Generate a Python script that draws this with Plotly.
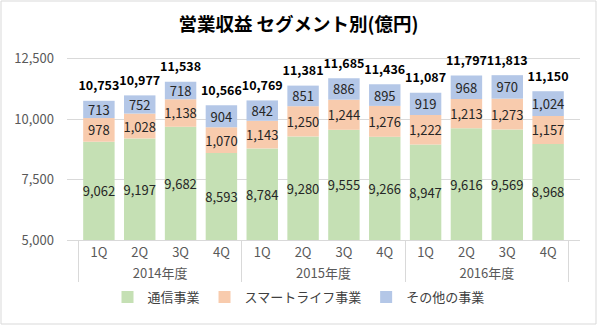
import plotly.graph_objects as go

years = ["2014年度"] * 4 + ["2015年度"] * 4 + ["2016年度"] * 4
quarters = ["1Q", "2Q", "3Q", "4Q"] * 3
tsushin = [9062, 9197, 9682, 8593, 8784, 9280, 9555, 9266, 8947, 9616, 9569, 8968]
smartlife = [978, 1028, 1138, 1070, 1143, 1250, 1244, 1276, 1222, 1213, 1273, 1157]
sonota = [713, 752, 718, 904, 842, 851, 886, 895, 919, 968, 970, 1024]
totals = [10753, 10977, 11538, 10566, 10769, 11381, 11685, 11436, 11087, 11797, 11813, 11150]

BASE = 5000
FONT = "Noto Sans CJK JP"
x = [years, quarters]

def fmt(v):
    return f"{v:,}"

seg_font = dict(size=13, color="#262626", family=FONT)

fig = go.Figure()
fig.add_trace(go.Bar(
    x=x, y=[v - BASE for v in tsushin], base=BASE, name="通信事業",
    marker=dict(color="#C5E0B4", line=dict(width=0)),
    text=[fmt(v) for v in tsushin], textposition="inside", insidetextanchor="middle",
    textfont=seg_font, textangle=0, constraintext="none",
))
fig.add_trace(go.Bar(
    x=x, y=smartlife, base=tsushin, name="スマートライフ事業",
    marker=dict(color="#F8CBAD", line=dict(width=0)),
    text=[fmt(v) for v in smartlife], textposition="inside", insidetextanchor="middle",
    textfont=seg_font, textangle=0, constraintext="none",
))
base3 = [a + b for a, b in zip(tsushin, smartlife)]
fig.add_trace(go.Bar(
    x=x, y=sonota, base=base3, name="その他の事業",
    marker=dict(color="#B4C7E7", line=dict(width=0)),
    text=[fmt(v) for v in sonota], textposition="inside", insidetextanchor="middle",
    textfont=seg_font, textangle=0, constraintext="none",
))
fig.add_trace(go.Scatter(
    x=x, y=totals, mode="markers+text", text=[fmt(v) for v in totals],
    marker=dict(size=10, color="rgba(0,0,0,0)"),
    textposition="top center", showlegend=False, hoverinfo="skip", cliponaxis=False,
    textfont=dict(size=12.5, color="#000000", family=FONT, weight="bold"),
))

fig.update_layout(
    width=597, height=325,
    margin=dict(l=67, r=17, t=52, b=85, autoexpand=False),
    barmode="overlay", bargap=0.23,
    paper_bgcolor="white", plot_bgcolor="white",
    font=dict(family=FONT, color="#595959", size=12),
    title=dict(text="<b>営業収益 セグメント別(億円)</b>", x=0.5, xanchor="center",
               yref="container", y=1 - 25 / 325, yanchor="middle",
               font=dict(size=18.5, color="#000000", family=FONT)),
    legend=dict(orientation="h", x=0.5, xanchor="center", xref="container",
                yref="container", y=1 - 297 / 325, yanchor="middle",
                font=dict(size=13, color="#404040", family=FONT),
                traceorder="normal"),
    shapes=[dict(type="rect", xref="paper", yref="paper",
                 x0=-67/513 + 1/513, x1=1 + 16/513, y0=-85/188 + 1/188, y1=1 + 51/188,
                 line=dict(color="#D9D9D9", width=1))],
)
fig.update_yaxes(range=[5000, 12770], tickvals=[5000, 7500, 10000, 12500],
                 tickformat=",", showgrid=True, gridcolor="#D9D9D9", gridwidth=1,
                 zeroline=False, showline=False, ticks="", ticklabelstandoff=12,
                 tickfont=dict(size=13, color="#595959"))
fig.update_xaxes(type="multicategory", showline=True, linecolor="#D9D9D9", linewidth=1,
                 showdividers=True, dividercolor="#D9D9D9", dividerwidth=1,
                 ticks="", tickfont=dict(size=13, color="#595959"))

fig.write_html("out.html")
